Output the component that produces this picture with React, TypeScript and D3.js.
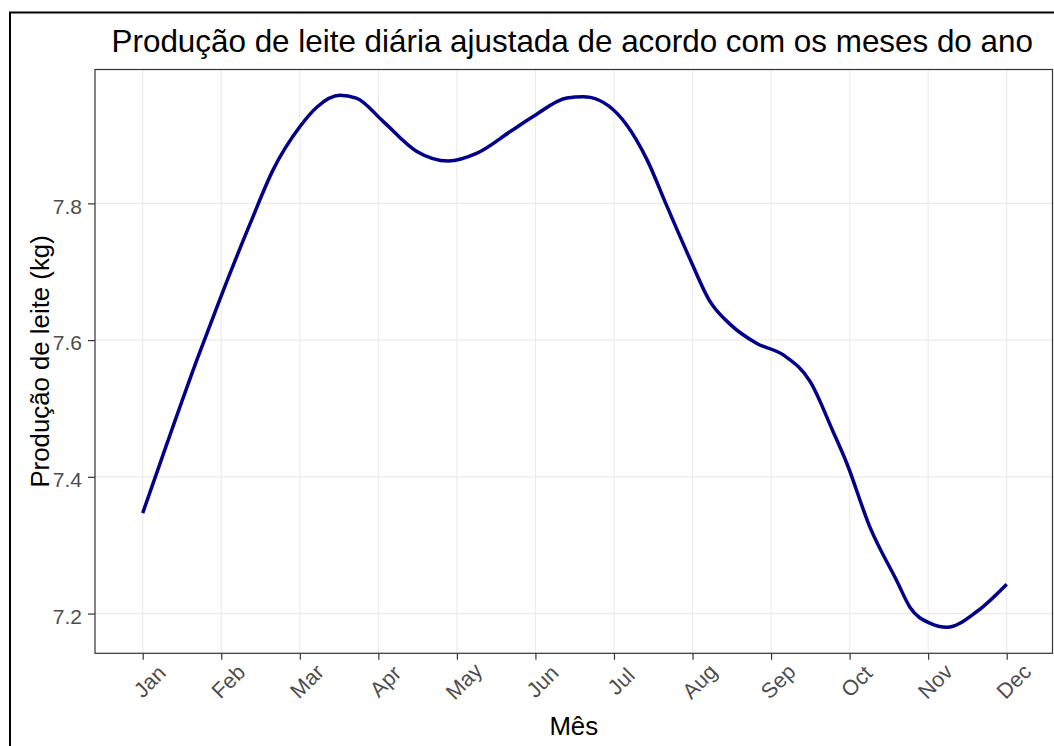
import React, { useRef, useEffect } from 'react'
import * as d3 from 'd3'

// month positions (1 = Jan) and smoothed daily milk yield
const monthPos = [1, 1.31, 1.69, 1.98, 2.37, 2.66, 3.0, 3.22, 3.51, 3.72, 4.06, 4.49, 4.89, 5.25, 5.68, 5.97, 6.4, 6.61, 6.7, 7.16, 7.42, 7.67, 7.97, 8.22, 8.48, 8.82, 9.16, 9.5, 9.79, 9.96, 10.26, 10.6, 10.77, 11.02, 11.24, 11.62, 12]
const milk = [7.347, 7.449, 7.571, 7.659, 7.771, 7.849, 7.912, 7.941, 7.958, 7.954, 7.92, 7.876, 7.862, 7.873, 7.905, 7.927, 7.954, 7.956, 7.955, 7.915, 7.864, 7.797, 7.718, 7.657, 7.623, 7.595, 7.578, 7.539, 7.466, 7.421, 7.326, 7.248, 7.209, 7.186, 7.18, 7.203, 7.243]

const monthLabels = ['Jan', 'Feb', 'Mar', 'Apr', 'May', 'Jun', 'Jul', 'Aug', 'Sep', 'Oct', 'Nov', 'Dec']
const yTicks = [7.2, 7.4, 7.6, 7.8]

const title = 'Produção de leite diária ajustada de acordo com os meses do ano'
const xTitle = 'Mês'
const yTitle = 'Produção de leite (kg)'

const App = () => {
  const svgRef = useRef<SVGSVGElement>(null)

  useEffect(() => {
    document.body.style.margin = '0'
    const w = 1054
    const h = 746
    const left = 95, top = 69.5, right = 1052.5, bottom = 653.3
    const font = 'Liberation Sans, Arial, sans-serif'

    const svg = d3.select(svgRef.current)
      .attr('width', w)
      .attr('height', h)
      .style('background-color', '#fff')
      .style('display', 'block')
    svg.selectAll('*').remove()

    // scales
    const xScale = d3.scaleLinear().domain([0.3927, 12.583]).range([left, right])
    const yScale = d3.scaleLinear().domain([7.1419, 7.9958]).range([bottom, top])

    // outer frame (runs off the right/bottom of the picture)
    svg.append('rect')
      .attr('x', 10).attr('y', 12.5)
      .attr('width', w + 20).attr('height', h + 20)
      .attr('fill', 'none').attr('stroke', '#000').attr('stroke-width', 2)

    // grid
    const months = monthLabels.map((_, i) => i + 1)
    svg.append('g').selectAll('line')
      .data(months)
      .join('line')
        .attr('x1', d => xScale(d)).attr('x2', d => xScale(d))
        .attr('y1', top).attr('y2', bottom)
        .attr('stroke', '#ebebeb').attr('stroke-width', 1.1)
    svg.append('g').selectAll('line')
      .data(yTicks)
      .join('line')
        .attr('x1', left).attr('x2', right)
        .attr('y1', d => yScale(d)).attr('y2', d => yScale(d))
        .attr('stroke', '#ebebeb').attr('stroke-width', 1.1)

    // curve
    const line = d3.line<number>()
      .x((d, i) => xScale(monthPos[i]))
      .y(d => yScale(d))
      .curve(d3.curveMonotoneX)
    svg.append('path')
      .attr('d', line(milk))
      .attr('fill', 'none')
      .attr('stroke', '#00008b')
      .attr('stroke-width', 3.5)
      .attr('stroke-linejoin', 'round')

    // panel border
    svg.append('rect')
      .attr('x', left).attr('y', top)
      .attr('width', right - left).attr('height', bottom - top)
      .attr('fill', 'none').attr('stroke', '#333').attr('stroke-width', 1.2)

    // axes
    const xAxis = d3.axisBottom(xScale)
      .tickValues(months)
      .tickFormat(d => monthLabels[(d as number) - 1])
      .tickSize(6.5)
      .tickSizeOuter(0)
    const gx = svg.append('g')
      .attr('transform', `translate(0,${bottom})`)
      .call(xAxis)
    gx.select('.domain').remove()
    gx.selectAll('.tick line').attr('stroke', '#333').attr('stroke-width', 1.2)
    gx.selectAll('.tick text')
      .attr('y', 0).attr('dy', '0.35em')
      .attr('transform', 'translate(6.5,28) rotate(-45)')
      .attr('text-anchor', 'middle')
      .attr('fill', '#4d4d4d')
      .style('font-family', font)
      .style('font-size', '21.5px')

    const yAxis = d3.axisLeft(yScale)
      .tickValues(yTicks)
      .tickFormat(d3.format('.1f'))
      .tickSize(7)
      .tickSizeOuter(0)
    const gy = svg.append('g')
      .attr('transform', `translate(${left},0)`)
      .call(yAxis)
    gy.select('.domain').remove()
    gy.selectAll('.tick line').attr('stroke', '#333').attr('stroke-width', 1.2)
    gy.selectAll('.tick text')
      .attr('x', -13).attr('dy', '0.47em')
      .attr('fill', '#4d4d4d')
      .style('font-family', font)
      .style('font-size', '21px')

    // titles
    svg.append('text')
      .attr('x', (left + right) / 2 - 1.5).attr('y', 52)
      .attr('text-anchor', 'middle')
      .style('font-family', font).style('font-size', '31.4px')
      .text(title)
    svg.append('text')
      .attr('x', (left + right) / 2).attr('y', 735)
      .attr('text-anchor', 'middle')
      .style('font-family', font).style('font-size', '25.8px')
      .text(xTitle)
    svg.append('text')
      .attr('transform', `translate(49,${(top + bottom) / 2}) rotate(-90)`)
      .attr('text-anchor', 'middle')
      .style('font-family', font).style('font-size', '25.8px')
      .text(yTitle)
  }, [])

  return (
    <div className='App'>
      <svg ref={svgRef}></svg>
    </div>
  )
}

export default App
